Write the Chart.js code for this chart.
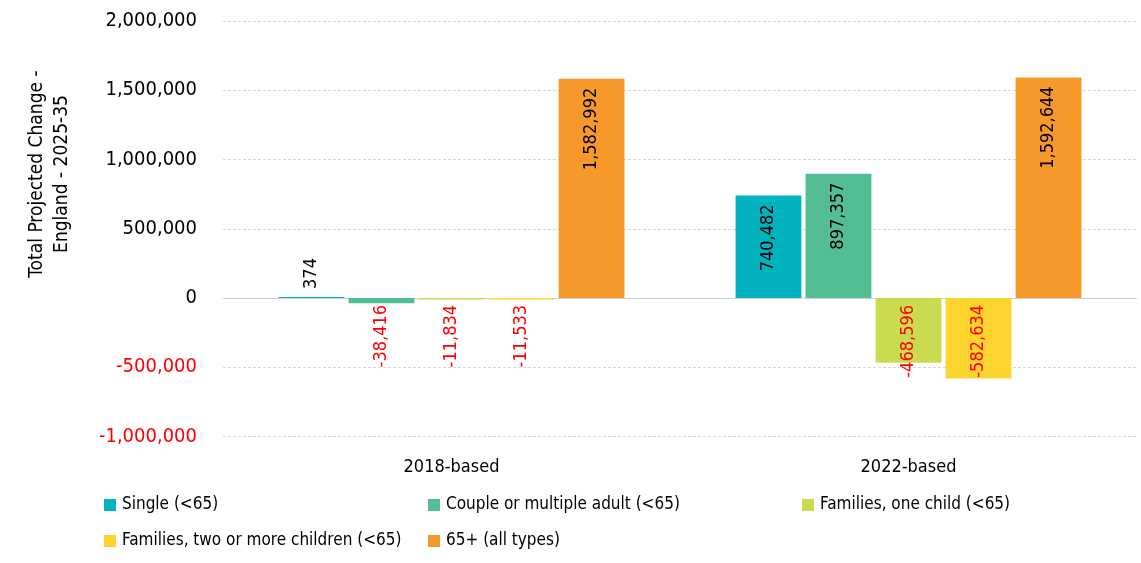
<!DOCTYPE html>
<html>
<head>
<meta charset="utf-8">
<script src="https://cdn.jsdelivr.net/npm/chart.js@4"></script>
<style>
  html, body { margin: 0; padding: 0; background: #fff; }
  #wrap { width: 1141px; height: 563px; position: relative; }
</style>
</head>
<body>
<div id="wrap"><canvas id="chart"></canvas></div>
<script>
// Data
const categories = ['2018-based', '2022-based'];
const seriesNames = ['Single (<65)', 'Couple or multiple adult (<65)', 'Families, one child (<65)', 'Families, two or more children (<65)', '65+ (all types)'];
const single = [374, 740482];
const couple = [-38416, 897357];
const oneChild = [-11834, -468596];
const twoPlus = [-11533, -582634];
const over65 = [1582992, 1592644];
const seriesColors = ['#00B3BE', '#53BE93', '#C9DC50', '#FDD32E', '#F7992A'];
const yMin = -1000000, yMax = 2000000, yStep = 500000;
const yTitle = ['Total Projected Change -', 'England - 2025-35'];

const FONT = "'Liberation Sans Narrow', 'DejaVu Sans Condensed', 'Roboto', sans-serif";
const RED = '#FF0000';
const fmt = v => v.toLocaleString('en-US');

// Dashed grid lines plus solid zero line
const gridPlugin = {
  id: 'grid',
  beforeDatasetsDraw(chart) {
    const { ctx, chartArea, scales } = chart;
    const y = scales.y;
    ctx.save();
    y.ticks.forEach(t => {
      const py = Math.round(y.getPixelForValue(t.value)) + 0.5;
      ctx.beginPath();
      ctx.lineWidth = 1;
      if (t.value === 0) {
        ctx.setLineDash([]);
        ctx.strokeStyle = '#D0D0D0';
      } else {
        ctx.setLineDash([3, 2]);
        ctx.strokeStyle = '#D6D6D6';
      }
      ctx.moveTo(chartArea.left, py);
      ctx.lineTo(chartArea.right, py);
      ctx.stroke();
    });
    ctx.restore();
  }
};

// Rotated value labels
const labelPlugin = {
  id: 'valueLabels',
  afterDatasetsDraw(chart) {
    const { ctx, scales } = chart;
    const zero = scales.y.getPixelForValue(0);
    ctx.save();
    ctx.font = '18px ' + FONT;
    ctx.textBaseline = 'middle';
    chart.data.datasets.forEach((ds, i) => {
      chart.getDatasetMeta(i).data.forEach((bar, j) => {
        const v = ds.data[j];
        let px = bar.x, py, align;
        const w = ctx.measureText(fmt(v)).width;
        if (v >= 0) {
          if (zero - bar.y > w + 20) { py = bar.y + 9; align = 'right'; }
          else { py = bar.y - 8; align = 'left'; }
          ctx.fillStyle = '#000';
        } else {
          py = zero + 7; align = 'right';
          ctx.fillStyle = RED;
        }
        ctx.save();
        ctx.translate(px, py);
        ctx.rotate(-Math.PI / 2);
        ctx.textAlign = align;
        ctx.fillText(fmt(v), 0, 0);
        ctx.restore();
      });
    });
    ctx.restore();
  }
};

// Axis title and legend
const extrasPlugin = {
  id: 'extras',
  afterDraw(chart) {
    const { ctx } = chart;
    ctx.save();
    ctx.font = '19px ' + FONT;
    ctx.fillStyle = '#000';
    ctx.textAlign = 'center';
    ctx.textBaseline = 'middle';
    yTitle.forEach((line, k) => {
      ctx.save();
      ctx.translate(37 + k * 25, 174);
      ctx.rotate(-Math.PI / 2);
      ctx.fillText(line, 0, 0);
      ctx.restore();
    });
    const cols = [104, 428, 802];
    const rows = [505, 541];
    ctx.font = '17px ' + FONT;
    ctx.textAlign = 'left';
    chart.data.datasets.forEach((ds, i) => {
      const x = cols[i % 3], y = rows[Math.floor(i / 3)];
      ctx.fillStyle = ds.backgroundColor;
      ctx.fillRect(x, y - 6, 12, 12);
      ctx.fillStyle = '#000';
      ctx.fillText(ds.label, x + 18, y);
    });
    ctx.restore();
  }
};

const allSeries = [single, couple, oneChild, twoPlus, over65];

new Chart(document.getElementById('chart'), {
  type: 'bar',
  data: {
    labels: categories,
    datasets: allSeries.map((d, i) => ({
      label: seriesNames[i],
      data: d,
      backgroundColor: seriesColors[i],
      borderWidth: 0,
      minBarLength: 1
    }))
  },
  options: {
    responsive: true,
    maintainAspectRatio: false,
    animation: false,
    categoryPercentage: 0.766,
    barPercentage: 0.94,
    layout: { padding: { top: 21, right: 4, bottom: 65, left: 0 } },
    plugins: { legend: { display: false }, tooltip: { enabled: false } },
    scales: {
      x: {
        grid: { display: false, drawTicks: false },
        border: { display: false },
        ticks: { color: '#000', padding: 20, font: { family: FONT, size: 18 } }
      },
      y: {
        min: yMin,
        max: yMax,
        grid: { display: false, drawOnChartArea: false, drawTicks: true, tickLength: 26, tickColor: 'rgba(0,0,0,0)' },
        border: { display: false },
        afterFit(scale) { scale.width = 223; },
        ticks: {
          stepSize: yStep,
          padding: 0,
          color: c => (c.tick.value < 0 ? RED : '#000'),
          font: { family: FONT, size: 20 },
          callback: v => fmt(v)
        }
      }
    }
  },
  plugins: [gridPlugin, labelPlugin, extrasPlugin]
});
</script>
</body>
</html>
